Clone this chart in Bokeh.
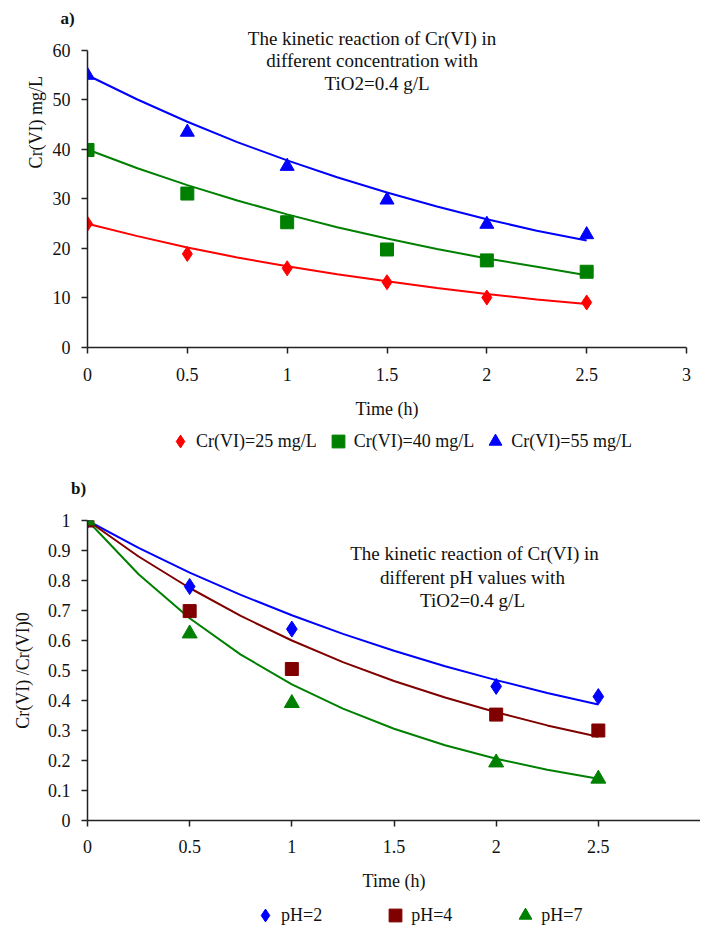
import math
from bokeh.plotting import figure
from bokeh.models import (Range1d, FixedTicker, CustomJSTickFormatter, Label,
                          Legend, LegendItem)
from bokeh.layouts import column, row
from bokeh.embed import file_html
from bokeh.resources import INLINE

FONT = "Liberation Serif"
AXIS = "#222222"
TXT = "#111111"

# ---------------- panel a) data ----------------
time_a = [0, 0.5, 1, 1.5, 2, 2.5]
cr25 = [25.0, 18.9, 16.0, 13.2, 10.1, 9.1]
cr40 = [39.9, 31.1, 25.3, 19.8, 17.6, 15.3]
cr55 = [55.0, 43.5, 36.6, 29.8, 24.9, 22.8]

fit_time = [0, 0.25, 0.5, 0.75, 1, 1.25, 1.5, 1.75, 2, 2.25, 2.5]
fit25 = [25.0, 22.5, 20.2, 18.2, 16.4, 14.8, 13.4, 12.0, 10.8, 9.7, 8.8]
fit40 = [40.0, 36.2, 32.8, 29.7, 26.9, 24.3, 22.0, 19.9, 18.0, 16.3, 14.6]
fit55 = [55.0, 50.1, 45.6, 41.5, 37.8, 34.4, 31.3, 28.5, 25.9, 23.6, 21.6]

ticks_a_x = [0, 0.5, 1, 1.5, 2, 2.5, 3]
ticks_a_y = [0, 10, 20, 30, 40, 50, 60]
labels_a = ["Cr(VI)=25 mg/L", "Cr(VI)=40 mg/L", "Cr(VI)=55 mg/L"]

# ---------------- panel b) data ----------------
time_b = [0, 0.5, 1, 2, 2.5]
ph2 = [1.0, 0.78, 0.638, 0.447, 0.413]
ph4 = [1.0, 0.698, 0.505, 0.353, 0.300]
ph7 = [1.0, 0.623, 0.391, 0.193, 0.139]

fit_ph2 = [1.0, 0.909, 0.826, 0.752, 0.684, 0.622, 0.566, 0.514, 0.468, 0.425, 0.387]
fit_ph4 = [1.0, 0.880, 0.775, 0.682, 0.600, 0.528, 0.465, 0.410, 0.361, 0.317, 0.279]
fit_ph7 = [1.0, 0.821, 0.674, 0.553, 0.454, 0.373, 0.306, 0.251, 0.206, 0.169, 0.139]

ticks_b_x = [0, 0.5, 1, 1.5, 2, 2.5]
ticks_b_y = [0, 0.1, 0.2, 0.3, 0.4, 0.5, 0.6, 0.7, 0.8, 0.9, 1]
labels_b = ["pH=2", "pH=4", "pH=7"]

cols_a = ["#FF0000", "#008000", "#0000FF"]
cols_b = ["#0000FF", "#800000", "#008000"]
markers = ["diamond", "square", "triangle"]
fmt_code = "return tick.toString();"


def make_fig(w, h, xr, yr, lb, rb, tb, bb, xticks, yticks):
    p = figure(width=w, height=h, x_range=xr, y_range=yr, title=None,
               output_backend="svg", toolbar_location=None,
               min_border_left=lb, min_border_right=rb,
               min_border_top=tb, min_border_bottom=bb)
    p.grid.visible = False
    p.outline_line_color = None
    p.background_fill_color = "white"
    p.border_fill_color = "white"
    p.xaxis.ticker = FixedTicker(ticks=xticks)
    p.yaxis.ticker = FixedTicker(ticks=yticks)
    for ax in (p.xaxis[0], p.yaxis[0]):
        ax.formatter = CustomJSTickFormatter(code=fmt_code)
        ax.axis_line_color = AXIS
        ax.axis_line_width = 1.5
        ax.major_tick_line_color = AXIS
        ax.major_tick_line_width = 1.5
        ax.major_tick_out = 6
        ax.major_tick_in = 0
        ax.minor_tick_line_color = None
        ax.major_label_text_font = FONT
        ax.major_label_text_font_size = "18px"
        ax.major_label_text_color = TXT
        ax.axis_label_text_font = FONT
        ax.axis_label_text_font_size = "18px"
        ax.axis_label_text_font_style = "normal"
        ax.axis_label_text_color = TXT
    p.yaxis.major_label_standoff = 11
    return p


def strip(w, h, xr, yr):
    """Axis-less strip whose frame fills the whole canvas (for text/legends)."""
    s = figure(width=w, height=h, x_range=xr, y_range=yr, title=None,
               x_axis_type=None, y_axis_type=None, output_backend="svg",
               toolbar_location=None, min_border=0)
    s.min_border_left = s.min_border_right = 0
    s.min_border_top = s.min_border_bottom = 0
    s.outline_line_color = None
    s.background_fill_color = "white"
    s.border_fill_color = "white"
    return s


def add_label(p, x, y, text, size="18px", style="normal", angle=0.0):
    p.add_layout(Label(x=x, y=y, text=text, text_font=FONT,
                       text_font_size=size, text_font_style=style,
                       text_color=TXT, text_align="center",
                       text_baseline="middle", angle=angle))


def legend_strip(w, h, times, series, cols, labels, sizes, loc, standoff, spacing):
    s = strip(w, h, Range1d(100, 100 + w), Range1d(0, h))
    rends = []
    for ys, c, m, sz in zip(series, cols, markers, sizes):
        # renderers lie outside this strip's ranges: only their legend swatch shows
        rends.append(s.scatter(times, ys, marker=m, size=sz, color=c))
    leg = Legend(items=[LegendItem(label=lab, renderers=[r])
                        for lab, r in zip(labels, rends)],
                 orientation="horizontal", location=loc,
                 glyph_width=32, glyph_height=32, label_standoff=standoff,
                 spacing=spacing, padding=0, margin=0,
                 border_line_color=None, background_fill_alpha=0,
                 label_text_font=FONT, label_text_font_size="18px",
                 label_text_color=TXT)
    s.add_layout(leg)
    return s


# ================= panel a =================
strip_a = strip(701, 28, Range1d(0, 701), Range1d(28, 0))
add_label(strip_a, 67, 18, "a)", size="17px", style="bold")

ylab_a = strip(47, 402, Range1d(0, 47), Range1d(430, 28))
add_label(ylab_a, 35, 146, "Cr(VI) mg/L", size="18px", angle=math.pi / 2)

pa = make_fig(654, 402, Range1d(0, 3), Range1d(0, 64.444), 40, 15, 0, 83,
              ticks_a_x, ticks_a_y)
pa.yaxis.bounds = (0, 60)
pa.xaxis.axis_label = "Time (h)"
pa.xaxis.major_label_standoff = 14
pa.xaxis.axis_label_standoff = 15

pa.line(fit_time, fit25, line_color=cols_a[0], line_width=2)
pa.line(fit_time, fit40, line_color=cols_a[1], line_width=2)
pa.line(fit_time, fit55, line_color=cols_a[2], line_width=2)
pa.scatter(time_a, cr25, marker=markers[0], size=15, color=cols_a[0])
pa.scatter(time_a, cr40, marker=markers[1], size=13, color=cols_a[1])
pa.scatter(time_a, cr55, marker=markers[2], size=14, color=cols_a[2])

add_label(pa, 1.425, 62.4, "The kinetic reaction of Cr(VI) in", size="19px")
add_label(pa, 1.425, 58.0, "different concentration with", size="19px")
add_label(pa, 1.45, 53.4, "TiO2=0.4 g/L", size="19px")

leg_a = legend_strip(701, 40, time_a, [cr25, cr40, cr55], cols_a, labels_a,
                     [14, 13, 14], (164, 13), -6, 5)

# ================= panel b =================
strip_b = strip(701, 38, Range1d(0, 701), Range1d(508, 470))
add_label(strip_b, 78, 488, "b)", size="17px", style="bold")

pb = make_fig(700, 391, Range1d(0, 3), Range1d(0, 1), 87, 0, 12, 79,
              ticks_b_x, ticks_b_y)
pb.xaxis.axis_label = "Time (h)"
pb.xaxis.major_label_standoff = 13
pb.xaxis.axis_label_standoff = 15
pb.yaxis.axis_label = "Cr(VI) /Cr(VI)0"
pb.yaxis.axis_label_standoff = 12

pb.line(fit_time, fit_ph2, line_color=cols_b[0], line_width=2)
pb.line(fit_time, fit_ph4, line_color=cols_b[1], line_width=2)
pb.line(fit_time, fit_ph7, line_color=cols_b[2], line_width=2)
pb.scatter(time_b, ph2, marker=markers[0], size=16, color=cols_b[0])
pb.scatter(time_b, ph4, marker=markers[1], size=13, color=cols_b[1])
pb.scatter(time_b, ph7, marker=markers[2], size=15, color=cols_b[2])

add_label(pb, 1.894, 0.89, "The kinetic reaction of Cr(VI) in", size="19px")
add_label(pb, 1.884, 0.81, "different pH values with", size="19px")
add_label(pb, 1.884, 0.733, "TiO2=0.4 g/L", size="19px")

leg_b = legend_strip(701, 27, time_b, [ph2, ph4, ph7], cols_b, labels_b,
                     [15, 13, 15], (249, -5), -11, 57)

# each child wrapped in its own row so that the column does not align frames
layout = column(row(strip_a), row(ylab_a, pa, spacing=0), row(leg_a),
                row(strip_b), row(pb), row(leg_b), spacing=0)
open("out.html", "w").write(file_html(layout, INLINE))
